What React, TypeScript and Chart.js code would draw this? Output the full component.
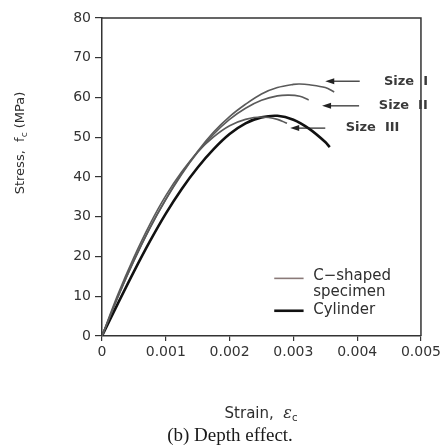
import React, { useEffect, useRef } from "react";
import { Chart, registerables } from "chart.js";

Chart.register(...registerables);

// ---- data ----
const xTickValues = [0, 0.001, 0.002, 0.003, 0.004, 0.005];
const yTickValues = [0, 10, 20, 30, 40, 50, 60, 70, 80];

const sizeIStrain = [0, 0.00025, 0.0005, 0.00075, 0.001, 0.00125, 0.0015, 0.00175, 0.002, 0.00225, 0.0025, 0.00275, 0.003, 0.0031, 0.00325, 0.0035, 0.00364];
const sizeIStress = [0, 9.8, 19.0, 27.2, 34.4, 40.9, 46.5, 51.3, 55.2, 58.3, 60.9, 62.5, 63.3, 63.4, 63.2, 62.5, 61.4];

const sizeIIStrain = [0, 0.00025, 0.0005, 0.00075, 0.001, 0.00125, 0.0015, 0.00175, 0.002, 0.00225, 0.0025, 0.00275, 0.00293, 0.0031, 0.00324];
const sizeIIStress = [0, 9.9, 18.9, 27.1, 34.3, 40.7, 46.2, 50.8, 54.5, 57.3, 59.3, 60.4, 60.6, 60.3, 59.4];

const sizeIIIStrain = [0, 0.00025, 0.0005, 0.00075, 0.001, 0.00125, 0.0015, 0.00175, 0.002, 0.00225, 0.0025, 0.00275, 0.0029];
const sizeIIIStress = [0, 10.5, 19.8, 28.1, 35.3, 41.3, 46.3, 50.1, 52.9, 54.5, 55.1, 54.5, 53.5];

const cylinderStrain = [0, 0.00025, 0.0005, 0.00075, 0.001, 0.00125, 0.0015, 0.00175, 0.002, 0.00225, 0.0025, 0.00275, 0.003, 0.00325, 0.0035, 0.00357];
const cylinderStress = [0, 8.2, 16.2, 23.8, 30.8, 37.0, 42.4, 47.0, 50.8, 53.5, 55.0, 55.4, 54.4, 52.1, 48.8, 47.5];

// size labels: text, arrow start/end strain, stress level, label strain
const sizeLabels = ["Size I", "Size II", "Size III"];
const sizeArrowFrom = [0.0035, 0.00345, 0.00295];
const sizeArrowTo = [0.00404, 0.00403, 0.0035];
const sizeArrowStress = [64.1, 57.9, 52.3];
const sizeLabelStrain = [0.00442, 0.00434, 0.00382];

const legendLabels = ["C\u2212shaped", "specimen", "Cylinder"];

const toPts = (xs: number[], ys: number[]) => xs.map((x, i) => ({ x, y: ys[i] }));

const THIN = "#5a5a5a";
const THICK = "#111111";
const TEXT = "#2e2e2e";
const FONT = "'DejaVu Sans', sans-serif";

const overlayPlugin = {
  id: "overlay",
  afterDraw(chart: any) {
    const { ctx, chartArea } = chart;
    const xs = chart.scales.x;
    const ys = chart.scales.y;
    ctx.save();
    // top and right frame
    ctx.strokeStyle = "#333";
    ctx.lineWidth = 1.5;
    ctx.beginPath();
    ctx.moveTo(chartArea.left, chartArea.top);
    ctx.lineTo(chartArea.right, chartArea.top);
    ctx.lineTo(chartArea.right, chartArea.bottom);
    ctx.stroke();

    // arrows + size labels
    ctx.fillStyle = "#3a3a3a";
    ctx.strokeStyle = "#222";
    ctx.font = `bold 13px ${FONT}`;
    ctx.textBaseline = "middle";
    ctx.textAlign = "left";
    for (let i = 0; i < sizeLabels.length; i++) {
      const y = ys.getPixelForValue(sizeArrowStress[i]);
      const x1 = xs.getPixelForValue(sizeArrowFrom[i]);
      const x2 = xs.getPixelForValue(sizeArrowTo[i]);
      ctx.lineWidth = 1.2;
      ctx.beginPath();
      ctx.moveTo(x1 + 6, y);
      ctx.lineTo(x2, y);
      ctx.stroke();
      ctx.fillStyle = "#222";
      ctx.beginPath();
      ctx.moveTo(x1, y);
      ctx.lineTo(x1 + 9, y - 3);
      ctx.lineTo(x1 + 9, y + 3);
      ctx.closePath();
      ctx.fill();
      ctx.fillStyle = "#3a3a3a";
      const lx = xs.getPixelForValue(sizeLabelStrain[i]);
      const words = sizeLabels[i].split(" ");
      ctx.fillText(words[0], lx, y);
      const w = ctx.measureText(words[0] + "  ").width;
      ctx.fillText(words[1], lx + w, y);
    }

    // legend
    ctx.font = `15px ${FONT}`;
    const lx1 = xs.getPixelForValue(0.0027);
    const lx2 = xs.getPixelForValue(0.00316);
    const tx = xs.getPixelForValue(0.00331);
    const yl0 = ys.getPixelForValue(15.0);
    const yl1 = ys.getPixelForValue(11.0);
    const yl2 = ys.getPixelForValue(6.6);
    ctx.strokeStyle = "#8a7a78";
    ctx.lineWidth = 1.6;
    ctx.beginPath();
    ctx.moveTo(lx1, yl0 + 2);
    ctx.lineTo(lx2, yl0 + 2);
    ctx.stroke();
    ctx.strokeStyle = THICK;
    ctx.lineWidth = 2.6;
    ctx.beginPath();
    ctx.moveTo(lx1, yl2 + 1);
    ctx.lineTo(lx2, yl2 + 1);
    ctx.stroke();
    ctx.fillStyle = TEXT;
    ctx.fillText(legendLabels[0], tx, yl0);
    ctx.fillText(legendLabels[1], tx, yl1);
    ctx.fillText(legendLabels[2], tx, yl2);

    // y axis title (rotated)
    ctx.save();
    ctx.translate(21, 143);
    ctx.rotate(-Math.PI / 2);
    const p1 = "Stress,  f";
    const p3 = " (MPa)";
    ctx.font = `13px ${FONT}`;
    const w1 = ctx.measureText(p1).width;
    const w3 = ctx.measureText(p3).width;
    ctx.font = `9px ${FONT}`;
    const w2 = ctx.measureText("c").width;
    const total = w1 + w2 + w3;
    let cx = -total / 2;
    ctx.textAlign = "left";
    ctx.font = `13px ${FONT}`;
    ctx.fillText(p1, cx, 0);
    cx += w1;
    ctx.font = `9px ${FONT}`;
    ctx.fillText("c", cx, 4);
    cx += w2;
    ctx.font = `13px ${FONT}`;
    ctx.fillText(p3, cx, 0);
    ctx.restore();

    // x axis title
    ctx.textAlign = "left";
    ctx.font = `15px ${FONT}`;
    const s1 = "Strain,  ";
    const ws1 = ctx.measureText(s1).width;
    ctx.font = `italic 16px 'DejaVu Serif', serif`;
    const ws2 = ctx.measureText("\u03b5").width;
    ctx.font = `10px ${FONT}`;
    const ws3 = ctx.measureText("c").width;
    let sx = 261 - (ws1 + ws2 + ws3) / 2;
    ctx.font = `15px ${FONT}`;
    ctx.fillText(s1, sx, 414);
    sx += ws1;
    ctx.font = `italic 16px 'DejaVu Serif', serif`;
    ctx.fillText("\u03b5", sx, 414);
    sx += ws2;
    ctx.font = `10px ${FONT}`;
    ctx.fillText("c", sx, 418);

    // caption
    ctx.textAlign = "center";
    ctx.fillStyle = "#1a1a1a";
    ctx.font = `19px 'Liberation Serif', 'Times New Roman', serif`;
    ctx.fillText("(b) Depth effect.", 230, 436);
    ctx.restore();
  },
};

export default function App() {
  const ref = useRef<HTMLCanvasElement | null>(null);
  useEffect(() => {
    document.body.style.margin = "0";
    document.body.style.background = "#fff";
    const canvas = ref.current!;
    const thin = { borderColor: THIN, borderWidth: 1.6, pointRadius: 0, showLine: true, tension: 0.35, fill: false };
    const chart = new Chart(canvas, {
      type: "scatter",
      data: {
        datasets: [
          { label: "Size I", data: toPts(sizeIStrain, sizeIStress), ...thin },
          { label: "Size II", data: toPts(sizeIIStrain, sizeIIStress), ...thin },
          { label: "Size III", data: toPts(sizeIIIStrain, sizeIIIStress), ...thin },
          {
            label: "Cylinder",
            data: toPts(cylinderStrain, cylinderStress),
            borderColor: THICK,
            borderWidth: 2.6,
            pointRadius: 0,
            showLine: true,
            tension: 0.35,
            fill: false,
          },
        ],
      },
      options: {
        responsive: false,
        animation: false,
        layout: { padding: { left: 0, top: 18, right: 23, bottom: 0 } },
        plugins: { legend: { display: false }, tooltip: { enabled: false }, title: { display: false } },
        scales: {
          x: {
            type: "linear",
            min: 0,
            max: 0.005,
            afterFit: (s: any) => { s.height = 110; },
            afterBuildTicks: (s: any) => { s.ticks = xTickValues.map((v) => ({ value: v })); },
            ticks: {
              color: "#333",
              font: { family: "'DejaVu Sans', sans-serif", size: 14 },
              padding: 3,
              maxRotation: 0,
              callback: (v: any) => (Number(v) === 0 ? "0" : Number(v).toFixed(3)),
            },
            grid: { drawOnChartArea: false, drawTicks: true, tickLength: 5, color: "#333", lineWidth: 1.2 },
            border: { display: true, color: "#333", width: 1.5 },
          },
          y: {
            type: "linear",
            min: 0,
            max: 80,
            afterFit: (s: any) => { s.width = 102; },
            afterBuildTicks: (s: any) => { s.ticks = yTickValues.map((v) => ({ value: v })); },
            ticks: {
              color: "#333",
              font: { family: "'DejaVu Sans', sans-serif", size: 14 },
              padding: 4,
            },
            grid: { drawOnChartArea: false, drawTicks: true, tickLength: 7, color: "#333", lineWidth: 1.2 },
            border: { display: true, color: "#333", width: 1.5 },
          },
        },
      },
      plugins: [overlayPlugin],
    } as any);
    return () => chart.destroy();
  }, []);
  return (
    <div style={{ width: 444, height: 446, background: "#fff" }}>
      <canvas ref={ref} width={444} height={446} style={{ display: "block", width: 444, height: 446 }} />
    </div>
  );
}
